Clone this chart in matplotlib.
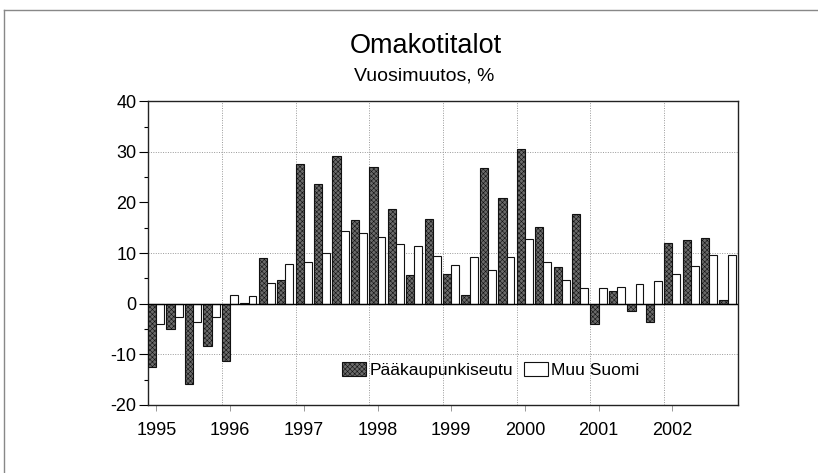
#!/usr/bin/python
# -*- coding: UTF-8 -*-
"""Omakotitalot, vuosimuutos % neljännesvuosittain 1995-2002"""

import matplotlib
matplotlib.use('Agg')
import matplotlib.pyplot as plt
from matplotlib.lines import Line2D
import numpy as np

plt.rcParams['font.family'] = ['Liberation Sans Narrow', 'Liberation Sans', 'DejaVu Sans']
plt.rcParams['hatch.linewidth'] = 0.4
plt.rcParams['axes.unicode_minus'] = False

vuodet = ['1995', '1996', '1997', '1998', '1999', '2000', '2001', '2002']

# neljännesvuodet 1995Q1 ... 2002Q4
paakaupunkiseutu = [-12.6, -5.0, -15.9, -8.4,
                    -11.4, 0.2, 9.1, 4.7,
                    27.6, 23.6, 29.1, 16.5,
                    27.0, 18.7, 5.7, 16.7,
                    5.9, 1.8, 26.8, 20.9,
                    30.5, 15.1, 7.2, 17.7,
                    -4.1, 2.6, -1.4, -3.6,
                    11.9, 12.6, 12.9, 0.7]
muu_suomi = [-4.0, -2.7, -3.6, -2.7,
             1.8, 1.6, 4.0, 7.9,
             8.2, 10.1, 14.4, 13.9,
             13.1, 11.8, 11.4, 9.5,
             7.6, 9.2, 6.7, 9.2,
             12.7, 8.3, 4.6, 3.1,
             3.0, 3.3, 3.9, 4.5,
             5.9, 7.4, 9.7, 9.6]


def piirra(ax):
    n = len(paakaupunkiseutu)
    x = np.arange(n)
    leveys = 0.45
    ax.bar(x, paakaupunkiseutu, width=leveys, align='edge', color='#6a6a6a',
           edgecolor='#111111', linewidth=0.8, hatch='xxxxxxx', label='Pääkaupunkiseutu', zorder=3)
    ax.bar(x + leveys, muu_suomi, width=0.43, align='edge', color='white',
           edgecolor='#111111', linewidth=0.8, label='Muu Suomi', zorder=3)
    ax.axhline(0, color='black', linewidth=1.0, zorder=4)

    ax.set_xlim(0, n)
    ax.set_ylim(-20, 40)
    ax.set_xticks(np.arange(0, n, 4) + leveys)
    ax.set_xticklabels(vuodet)
    ax.set_yticks(np.arange(-20, 41, 10))
    ax.set_yticks(np.arange(-15, 40, 10), minor=True)
    ax.tick_params(axis='y', which='major', direction='out', length=6.5, width=0.8,
                   labelsize=13, pad=2)
    ax.tick_params(axis='y', which='minor', direction='out', length=3, width=0.8)
    ax.tick_params(axis='x', direction='out', length=4, width=0.6, color='#888888',
                   labelsize=13, pad=8)

    for g in range(4, n, 4):
        ax.axvline(g, color='#999999', linewidth=0.7, linestyle=(0, (1, 1.5)), zorder=1)
    for g in (-10, 10, 30):
        ax.axhline(g, color='#999999', linewidth=0.7, linestyle=(0, (1, 1.5)), zorder=1)

    for s in ax.spines.values():
        s.set_linewidth(1.0)
        s.set_color('#222222')

    ax.legend(loc='center', bbox_to_anchor=(0.581, 0.115), ncol=2, frameon=False,
              fontsize=12.5, handlelength=1.4, handleheight=0.85, handletextpad=0.2,
              columnspacing=0.6)


if __name__ == '__main__':
    fig = plt.figure(figsize=(8.18, 4.73), dpi=100)
    ax = fig.add_axes([0.181, 0.144, 0.721, 0.642])
    piirra(ax)

    fig.text(0.520, 0.903, 'Omakotitalot', ha='center', va='center', fontsize=19.5)
    fig.text(0.519, 0.840, 'Vuosimuutos, %', ha='center', va='center', fontsize=14)

    # skannatun sivun reunaviivat
    fig.add_artist(Line2D([0.005, 1.0], [0.979, 0.979], color='#888888', linewidth=1.0))
    fig.add_artist(Line2D([0.005, 0.005], [0.0, 0.979], color='#888888', linewidth=1.0))

    fig.savefig('out.png', dpi=100)
